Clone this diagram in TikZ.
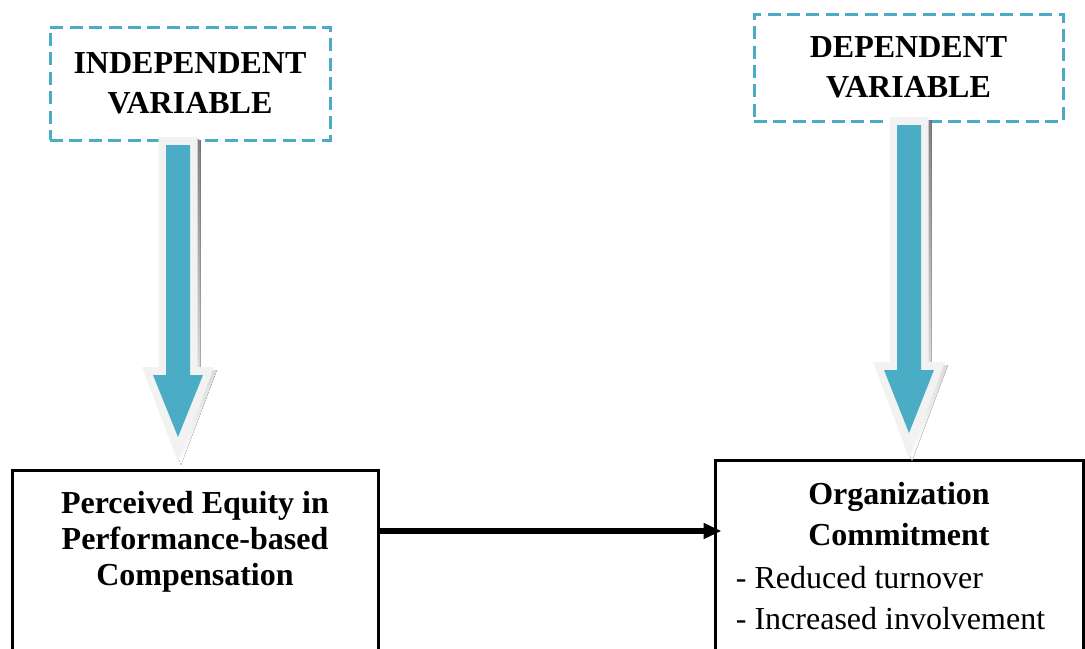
\documentclass[tikz,border=0pt]{standalone}
\usepackage{fontspec}
\setmainfont{Liberation Serif}
\usepackage{tikz}
\usepackage{xcolor}
\usetikzlibrary{arrows.meta, positioning, calc}
\definecolor{accentblue}{HTML}{4BACC6}
\definecolor{haze}{HTML}{F2F2F2}
\definecolor{shade}{HTML}{A3B6BE}

% block arrow outline: centre x, top, head start, tip, half shaft, half wing
\newcommand{\arrowpath}[6]{({#1-#5},#2) -- ({#1+#5},#2) -- ({#1+#5},#3) -- ({#1+#6},#3) -- (#1,#4) -- ({#1-#6},#3) -- ({#1-#5},#3) -- cycle}
\newcommand{\bigdownarrow}[4]{%
  \fill[shade, shift={(3,3)}] \arrowpath{#1}{#2}{#3}{#4}{19.5}{36};
  \fill[haze] \arrowpath{#1}{#2}{#3}{#4}{19.5}{36};
  \fill[accentblue] \arrowpath{#1}{#2+8}{#3+8}{#4-25}{12}{25};
}

\begin{document}
\begin{tikzpicture}[x=0.5pt, y=-0.5pt,
    varbox/.style={draw=accentblue, dashed, dash pattern=on 6.5pt off 3.2pt, line width=1.5pt,
      font=\fontsize{16}{20}\selectfont\bfseries, align=center, inner sep=0pt},
    conbox/.style={draw=black, line width=1.5pt, inner sep=0pt},
    boxtext/.style={font=\fontsize{16}{18}\selectfont, align=center, inner sep=0pt, anchor=north}]
  \useasboundingbox (0,0) rectangle (1085,648);

  % variable labels
  \node[varbox, minimum width=140pt, minimum height=56.5pt] (indep) at (190,83.5)
    {INDEPENDENT\\VARIABLE};
  \node[varbox, minimum width=154.5pt, minimum height=53.5pt] (dep) at (908.5,67.5)
    {DEPENDENT\\VARIABLE};

  % constructs
  \node[conbox, minimum width=183pt, minimum height=91pt] (equity) at (195,561) {};
  \node[conbox, minimum width=184pt, minimum height=96pt] (commit) at (899,556) {};

  \node[boxtext, font=\fontsize{16}{18.2}\selectfont\bfseries] (equitytxt) at ($(equity.north)+(0,22)$)
    {Perceived Equity in\\Performance-based\\Compensation};
  \node[boxtext, font=\fontsize{16}{20.5}\selectfont\bfseries] (committxt) at ($(commit.north)+(0,23)$)
    {Organization\\Commitment};
  \node[boxtext, anchor=north west, align=left, font=\fontsize{16}{20.5}\selectfont] (outcomes)
    at ($(commit.north west)+(22,107)$)
    {- Reduced turnover\\- Increased involvement};

  % block arrows from labels down to constructs
  \bigdownarrow{178}{137}{367}{462}
  \bigdownarrow{909}{117}{362}{458}

  \draw[line width=2.8pt, -{Triangle[length=9pt, width=7.5pt]}] (equity.east |- 0,531) -- ([xshift=4pt]commit.west |- 0,531);
\end{tikzpicture}
\end{document}
